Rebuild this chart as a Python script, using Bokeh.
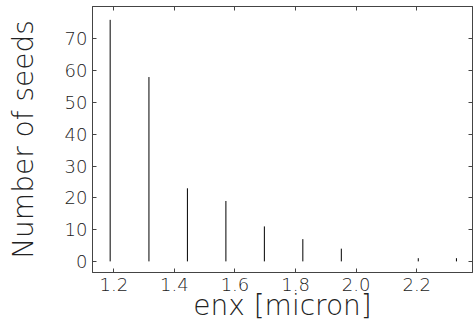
from bokeh.plotting import figure
from bokeh.models import Range1d, LinearAxis, FixedTicker, PrintfTickFormatter
from bokeh.embed import file_html
from bokeh.resources import INLINE

# data
enx = [1.188, 1.316, 1.443, 1.570, 1.697, 1.824, 1.951, 2.078, 2.205, 2.331]
seeds = [76, 58, 23, 19, 11, 7, 4, 0, 1, 1]
x_ticks = [1.2, 1.4, 1.6, 1.8, 2.0, 2.2]
y_ticks = [0, 10, 20, 30, 40, 50, 60, 70]

FONT = "'DejaVu Sans ExtraLight', 'DejaVu Sans Light', 'Lato Light', 'DejaVu Sans'"
TXT = "#222222"
FRAME = "#444444"

p = figure(width=475, height=331, output_backend="svg", toolbar_location=None,
           x_range=Range1d(1.1297, 2.384), y_range=Range1d(-3.5, 80.2),
           min_border_left=92, min_border_right=3, min_border_top=6, min_border_bottom=59,
           x_axis_location=None, y_axis_location=None)
p.background_fill_color = "white"
p.border_fill_color = "white"
p.outline_line_color = FRAME
p.outline_line_width = 1
p.xgrid.visible = False
p.ygrid.visible = False

xb = LinearAxis(ticker=FixedTicker(ticks=x_ticks), formatter=PrintfTickFormatter(format="%.1f"),
                axis_label="enx [micron]")
yl = LinearAxis(ticker=FixedTicker(ticks=y_ticks), formatter=PrintfTickFormatter(format="%d"),
                axis_label="Number of seeds")
xt = LinearAxis(ticker=FixedTicker(ticks=x_ticks))
yr = LinearAxis(ticker=FixedTicker(ticks=y_ticks))

for ax in (xb, yl, xt, yr):
    ax.axis_line_color = FRAME
    ax.major_tick_line_color = FRAME
    ax.major_tick_in = 4
    ax.major_tick_out = 0
    ax.minor_tick_line_color = None
    ax.major_label_text_font = FONT
    ax.major_label_text_font_size = "18px"
    ax.major_label_text_color = TXT
    ax.axis_label_text_font = FONT
    ax.axis_label_text_font_size = "28px"
    ax.axis_label_text_font_style = "normal"
    ax.axis_label_text_color = TXT

for ax in (xt, yr):
    ax.major_label_text_color = None
    ax.major_label_standoff = 0

xb.major_label_standoff = 5
xb.axis_label_standoff = -5
yl.major_label_standoff = 5
yl.axis_label_standoff = 22

p.add_layout(xb, "below")
p.add_layout(yl, "left")
p.add_layout(xt, "above")
p.add_layout(yr, "right")

p.segment(x0=enx, y0=[0] * len(enx), x1=enx, y1=seeds, line_color="black", line_width=1)

open("out.html", "w").write(file_html(p, INLINE))
